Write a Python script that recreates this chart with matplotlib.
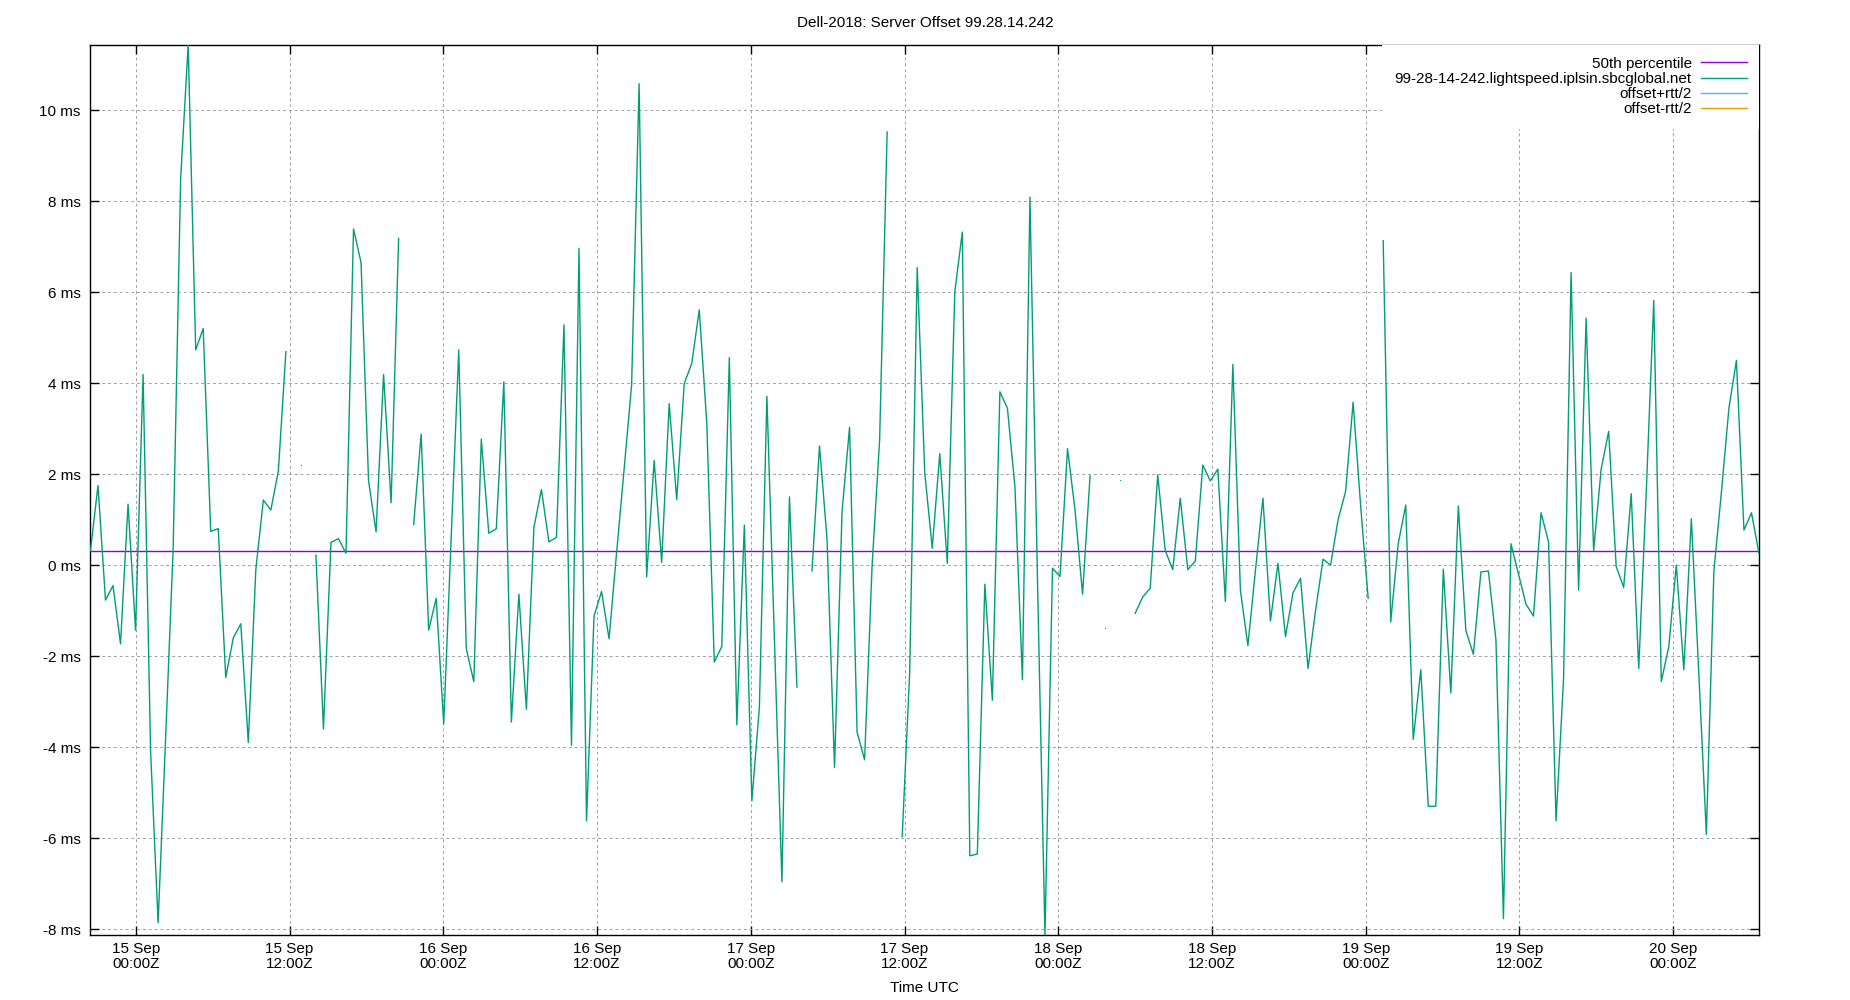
import numpy as np
import matplotlib
matplotlib.use("Agg")
import matplotlib.pyplot as plt
import matplotlib.dates as mdates
from matplotlib.ticker import FixedLocator, FuncFormatter

plt.rcParams['font.family'] = ['Liberation Sans', 'DejaVu Sans']

# ---------------- data ----------------
title = "Dell-2018: Server Offset 99.28.14.242"
series_label = "99-28-14-242.lightspeed.iplsin.sbcglobal.net"
start_time = np.datetime64('2018-09-14T20:27:18')
step_seconds = 2112  # poll interval between samples

nan = np.nan
offset_ms = [
    0.32, 1.75, -0.77, -0.45, -1.73, 1.34, -1.43, 4.19, -4.09, -7.86,
    -3.8, 0.35, 8.5, 11.44, 4.73, 5.2, 0.74, 0.8, -2.47, -1.6,
    -1.29, -3.9, -0.1, 1.43, 1.21, 2.07, 4.69, nan, 2.21, nan,
    0.22, -3.6, 0.5, 0.58, 0.26, 7.39, 6.65, 1.85, 0.73, 4.19,
    1.37, 7.18, nan, 0.89, 2.88, -1.43, -0.73, -3.49, 0.6, 4.73,
    -1.83, -2.56, 2.77, 0.7, 0.8, 4.03, -3.45, -0.64, -3.17, 0.83,
    1.66, 0.51, 0.61, 5.28, -3.96, 6.96, -5.62, -1.12, -0.58, -1.62,
    0.27, 2.1, 3.96, 10.58, -0.26, 2.3, 0.06, 3.55, 1.44, 3.99,
    4.43, 5.61, 3.13, -2.13, -1.79, 4.56, -3.51, 0.88, -5.18, -3.13,
    3.71, -1.65, -6.96, 1.5, -2.68, nan, -0.13, 2.62, 0.58, -4.45,
    1.18, 3.03, -3.67, -4.28, 0.0, 2.75, 9.52, nan, -5.97, -2.36,
    6.54, 2.04, 0.37, 2.45, 0.04, 6.0, 7.32, -6.39, -6.35, -0.42,
    -2.97, 3.81, 3.45, 1.73, -2.52, 8.09, -0.3, -8.13, -0.07, -0.25,
    2.56, 1.21, -0.64, 1.96, nan, -1.38, nan, 1.88, nan, -1.06,
    -0.7, -0.51, 1.98, 0.32, -0.1, 1.47, -0.1, 0.09, 2.2, 1.85,
    2.11, -0.8, 4.41, -0.55, -1.77, -0.12, 1.47, -1.23, 0.04, -1.57,
    -0.61, -0.29, -2.27, -1.0, 0.13, 0.0, 1.0, 1.62, 3.58, 1.3,
    -0.73, nan, 7.13, -1.25, 0.47, 1.32, -3.83, -2.3, -5.3, -5.3,
    -0.09, -2.81, 1.3, -1.44, -1.96, -0.15, -0.13, -1.64, -7.77, 0.47,
    -0.2, -0.86, -1.12, 1.15, 0.51, -5.62, -2.5, 6.43, -0.55, 5.43,
    0.32, 2.11, 2.94, -0.03, -0.49, 1.57, -2.27, 1.6, 5.82, -2.56,
    -1.79, 0.0, -2.3, 1.02, -2.4, -5.92, -0.13, 1.6, 3.45, 4.5,
    0.77, 1.15, 0.26,
]
p50_ms = 0.31
y_limits = (-8.13, 11.44)
y_ticks = [-8, -6, -4, -2, 0, 2, 4, 6, 8, 10]

# ---------------- derived ----------------
vals = np.array(offset_ms, dtype=float)
times = start_time + np.arange(len(vals)) * np.timedelta64(step_seconds, 's')
tnum = mdates.date2num(times.astype('datetime64[s]').astype(object))

# isolated samples (NaN on both sides) are drawn as tiny dots
prev_nan = np.concatenate([[True], np.isnan(vals[:-1])])
next_nan = np.concatenate([np.isnan(vals[1:]), [True]])
isolated = (~np.isnan(vals)) & prev_nan & next_nan

# ---------------- figure ----------------
fig = plt.figure(figsize=(18.5, 10), dpi=100)
ax = fig.add_axes([0.0489, 0.065, 0.9019, 0.8904])

c_p50 = '#9400d3'
c_main = '#009e73'
c_plus = '#56b4e9'
c_minus = '#e69f00'

ax.axhline(p50_ms, color=c_p50, lw=1.0, label='50th percentile', zorder=3)
ax.plot(tnum, vals, color=c_main, lw=1.0, label=series_label, zorder=4)
ax.plot(tnum[isolated], vals[isolated], linestyle='none', marker='s',
        markersize=0.7, markeredgewidth=0, color=c_main, zorder=4)
ax.plot([], [], color=c_plus, lw=1.0, label='offset+rtt/2')
ax.plot([], [], color=c_minus, lw=1.0, label='offset-rtt/2')

ax.set_xlim(tnum[0], tnum[-1])
ax.set_ylim(*y_limits)

# x ticks every 12 hours
ax.xaxis.set_major_locator(mdates.HourLocator(byhour=[0, 12]))
ax.xaxis.set_major_formatter(mdates.DateFormatter('%d %b\n%H:%MZ'))
ax.yaxis.set_major_locator(FixedLocator(y_ticks))
ax.yaxis.set_major_formatter(FuncFormatter(lambda v, p: f"{int(round(v))} ms"))

ax.tick_params(axis='both', direction='in', length=6.5, width=1.0,
               labelsize=11, top=True, right=True, colors='black')
ax.tick_params(axis='y', pad=7)
ax.tick_params(axis='x', pad=5)
fig.canvas.draw()
for lbl in ax.get_xticklabels():
    lbl.set_linespacing(1.1)

ax.grid(True, color='#a0a0a0', lw=0.7, linestyle=(0, (3, 3)))
ax.set_axisbelow(True)
for s in ax.spines.values():
    s.set_color('black')
    s.set_linewidth(1.0)

ax.set_xlabel('Time UTC', fontsize=11, labelpad=7)
fig.text(0.5, 0.977, title, ha='center', va='center', fontsize=11)

leg = ax.legend(loc='upper right', bbox_to_anchor=(1.0, 1.0), markerfirst=False,
                frameon=True, fancybox=False, framealpha=1.0, facecolor='white',
                edgecolor='none', borderaxespad=0.0, borderpad=0.8,
                labelspacing=0.08, handlelength=3.0, handletextpad=0.6,
                fontsize=11)
leg.set_zorder(5)

fig.savefig('out.png', dpi=100)
